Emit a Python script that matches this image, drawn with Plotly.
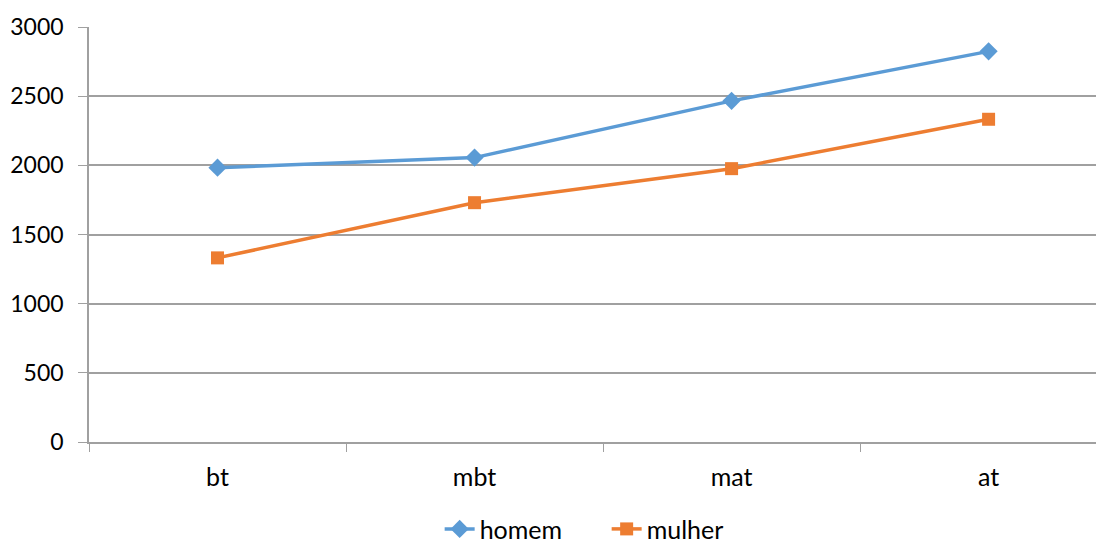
import plotly.graph_objects as go

categories = ["bt", "mbt", "mat", "at"]
homem = [1983, 2056, 2466, 2824]
mulher = [1331, 1730, 1976, 2333]

fig = go.Figure()
fig.add_trace(go.Scatter(x=categories, y=homem, name="homem", mode="lines+markers",
                         line=dict(color="#5B9BD5", width=3.5),
                         marker=dict(symbol="diamond", size=14, color="#5B9BD5")))
fig.add_trace(go.Scatter(x=categories, y=mulher, name="mulher", mode="lines+markers",
                         line=dict(color="#ED7D31", width=3.5),
                         marker=dict(symbol="square", size=13, color="#ED7D31")))

fam = "Lato, Carlito, Calibri, sans-serif"
fig.update_layout(
    width=1096, height=535,
    margin=dict(l=81, r=0, t=19, b=101, autoexpand=False),
    paper_bgcolor="white", plot_bgcolor="white",
    font=dict(family=fam, size=24, color="#000000"),
    showlegend=True,
    legend=dict(orientation="h", x=0.51, xanchor="center", y=-0.21, yanchor="middle",
                font=dict(family=fam, size=25, color="#000000"), traceorder="normal",
                entrywidth=122, entrywidthmode="pixels"),
    xaxis=dict(type="category", range=[-0.5, 3.449], showline=True, linecolor="#A0A0A0",
               linewidth=1.5, ticks="outside", tickson="boundaries", ticklen=8,
               tickcolor="#A0A0A0", showgrid=False, automargin=False,
               tickfont=dict(family=fam, size=25, color="#000000"), ticklabelstandoff=12),
    yaxis=dict(range=[0, 3000], dtick=500, showline=True, linecolor="#A0A0A0", linewidth=1.5,
               ticks="outside", ticklen=9, tickcolor="#A0A0A0", gridcolor="#A0A0A0",
               gridwidth=1.5, zeroline=False, ticklabelstandoff=10, automargin=False,
               tickfont=dict(family=fam, size=23, color="#000000")),
)
fig.write_html("out.html")
